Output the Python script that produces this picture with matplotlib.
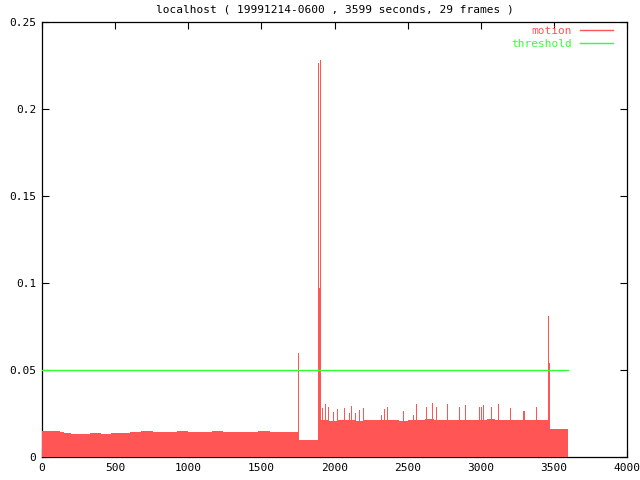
"""
Motion log plot for one capture hour, gnuplot look.
"""
import numpy as np
import matplotlib
matplotlib.use("Agg")
import matplotlib.pyplot as plt

# baseline motion level, piecewise (segment start second, level)
seg_start = [0, 60, 120, 150, 200, 260, 330, 400, 470, 540, 600, 680, 760,
             840, 920, 1000, 1080, 1160, 1240, 1320, 1400, 1480, 1560, 1640,
             1700, 1752, 1800, 1850, 1893, 1907, 1960, 2020, 2080, 2140, 2200,
             2260, 2320, 2380, 2440, 2500, 2560, 2620, 2680, 2740, 2800, 2860,
             2920, 2980, 3040, 3100, 3160, 3220, 3280, 3340, 3400, 3468]
seg_level = [0.0150, 0.0151, 0.0143, 0.0139, 0.0135, 0.0133, 0.0136, 0.0134,
             0.0137, 0.0140, 0.0146, 0.0147, 0.0145, 0.0146, 0.0148, 0.0146,
             0.0145, 0.0147, 0.0146, 0.0144, 0.0146, 0.0147, 0.0145, 0.0146,
             0.0145, 0.0100, 0.0096, 0.0099, 0.0120, 0.0212, 0.0209, 0.0214,
             0.0211, 0.0208, 0.0213, 0.0210, 0.0215, 0.0211, 0.0209, 0.0214,
             0.0212, 0.0216, 0.0213, 0.0210, 0.0215, 0.0212, 0.0214, 0.0211,
             0.0216, 0.0213, 0.0210, 0.0215, 0.0212, 0.0214, 0.0211, 0.0159]
end_second = 3599

# isolated peaks (second, value)
spike_t = [1750, 1889, 1896, 1903, 1917, 1937, 1958, 1992, 2019, 2067, 2101,
           2115, 2142, 2170, 2195, 2320, 2341, 2361, 2471, 2535, 2559, 2623,
           2669, 2692, 2767, 2849, 2895, 2986, 2999, 3018, 3072, 3120, 3202,
           3291, 3294, 3380, 3462, 3466]
spike_v = [0.0596, 0.2265, 0.0972, 0.2280, 0.0280, 0.0305, 0.0289, 0.0260,
           0.0276, 0.0280, 0.0251, 0.0295, 0.0251, 0.0270, 0.0280, 0.0242,
           0.0276, 0.0289, 0.0266, 0.0242, 0.0303, 0.0289, 0.0309, 0.0289,
           0.0305, 0.0289, 0.0297, 0.0289, 0.0289, 0.0299, 0.0289, 0.0305,
           0.0280, 0.0266, 0.0266, 0.0290, 0.0810, 0.0540]

threshold = 0.05
title = "localhost ( 19991214-0600 , 3599 seconds, 29 frames )"

RED = "#ff5555"
GREEN = "#33ff33"
FONT = "DejaVu Sans Mono"

plt.rcParams["font.family"] = FONT
plt.rcParams["font.size"] = 8

fig = plt.figure(figsize=(6.4, 4.8), dpi=100)
ax = fig.add_axes([42 / 640, 1 - 457 / 480, 585 / 640, 435 / 480])

# data is drawn over the border, like gnuplot does
edges = seg_start + [end_second]
ax.stairs(seg_level, edges, fill=True, color=RED, linewidth=0, zorder=3)
ax.vlines(spike_t, 0, spike_v, color=RED, linewidth=0.72, antialiased=False,
          zorder=3)
ax.plot([], [], color=RED, linewidth=1, label="motion")
ax.plot([0, end_second], [threshold, threshold], color=GREEN, linewidth=1,
        label="threshold", zorder=4)

ax.set_xlim(0, 4000)
ax.set_ylim(0, 0.25)
ax.set_xticks(np.arange(0, 4001, 500))
ax.set_yticks([0, 0.05, 0.1, 0.15, 0.2, 0.25])
ax.set_yticklabels(["0", "0.05", "0.1", "0.15", "0.2", "0.25"])
ax.tick_params(direction="in", length=5, width=0.8, top=True, right=True,
               pad=4)
for s in ax.spines.values():
    s.set_linewidth(0.9)

ax.set_title(title, fontsize=8, pad=7)

leg = ax.legend(loc="upper right", frameon=False, handlelength=3.0,
                markerfirst=False, borderaxespad=0, borderpad=0,
                labelspacing=0.3, handletextpad=0.7,
                bbox_to_anchor=(613 / 640, 1 - 26 / 480),
                bbox_transform=fig.transFigure)
for txt, col in zip(leg.get_texts(), [RED, GREEN]):
    txt.set_color(col)

fig.savefig("out.png", dpi=100)
